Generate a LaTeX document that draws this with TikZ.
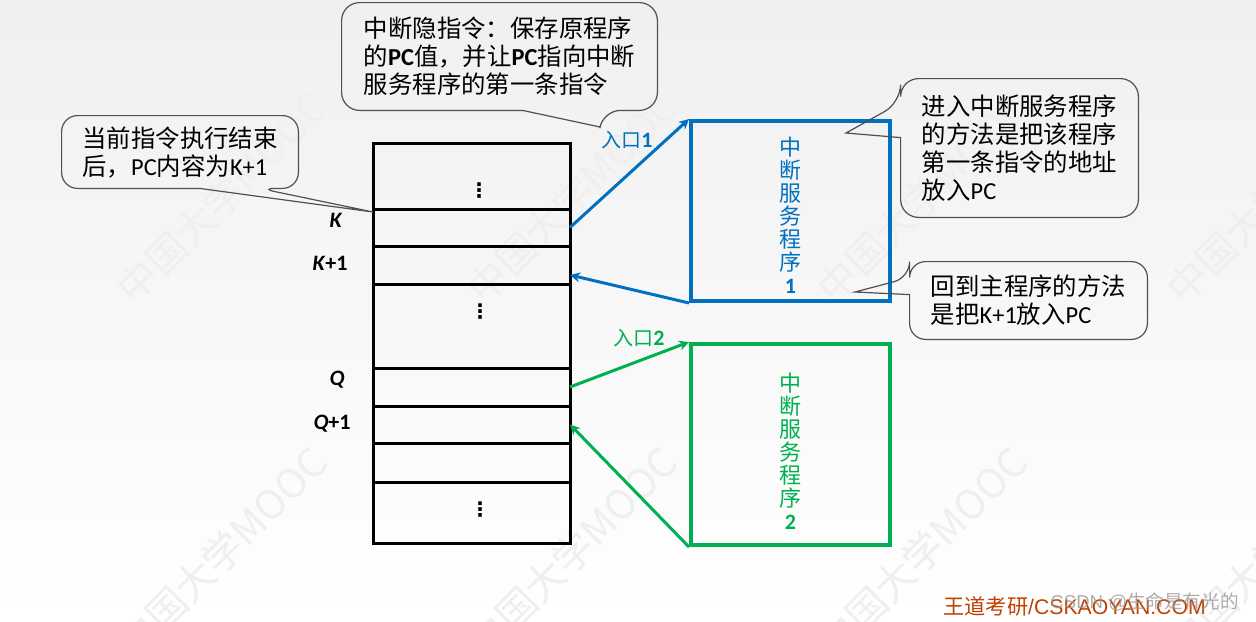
\documentclass[tikz,border=0pt]{standalone}
\usepackage{fontspec}
\setmainfont{Noto Sans CJK SC}
\newfontfamily\latinfont{Carlito}
\newfontfamily\arialfont{Liberation Sans}
\newfontfamily\symfont{DejaVu Sans}
\usetikzlibrary{positioning,arrows.meta,calc}
\definecolor{isrblue}{RGB}{0,112,192}
\definecolor{isrgreen}{RGB}{0,176,80}
\definecolor{wdred}{RGB}{192,64,0}
\definecolor{notegray}{RGB}{80,80,80}
\definecolor{markgray}{RGB}{239,239,239}
\tikzset{
  cell/.style     = {draw, line width=1.5pt, minimum width=98.5pt,
                     inner sep=0pt, outer sep=0pt},
  isrbox/.style   = {draw, line width=2pt, minimum width=99.5pt, inner sep=0pt},
  isrtext/.style  = {align=center, inner sep=0pt,
                     font=\fontsize{11}{11.5}\selectfont},
  addr/.style     = {inner sep=0pt, font=\latinfont\bfseries\fontsize{11}{12}\selectfont},
  entry/.style    = {inner sep=0pt, font=\fontsize{10}{12}\selectfont},
  notebox/.style  = {align=left, inner sep=0pt, font=\fontsize{12.2}{14}\selectfont},
  callout/.style  = {draw=notegray, line width=0.6pt},
  linkarr/.style  = {-{Stealth[length=5pt,width=5pt]}, line width=1.5pt},
  dotsmark/.style = {inner sep=0pt, font=\symfont\bfseries\fontsize{10}{10}\selectfont},
  watermark/.style= {rotate=45, text=markgray, font=\fontsize{20}{20}\selectfont}
}

\begin{document}
\begin{tikzpicture}[x=0.5pt, y=-0.5pt]
  \useasboundingbox (0,0) rectangle (1256,621);
  \shade[top color=black!6, bottom color=white] (0,0) rectangle (1256,621);
  % Watermarks
  \node[watermark] (wm1) at (222,198) {中国大学MOOC};
  \node[watermark] (wm2) at (572,198) {中国大学MOOC};
  \node[watermark] (wm3) at (922,198) {中国大学MOOC};
  \node[watermark] (wm4) at (1272,198) {中国大学MOOC};
  \node[watermark] (wm5) at (222,553) {中国大学MOOC};
  \node[watermark] (wm6) at (572,553) {中国大学MOOC};
  \node[watermark] (wm7) at (922,553) {中国大学MOOC};
  \node[watermark] (wm8) at (1272,553) {中国大学MOOC};
  % Main memory
  \node[cell, minimum height=33pt]   (c1) at (471.5,176) {};
  \node[cell, minimum height=18.5pt, below=0pt of c1] (c2) {};
  \node[cell, minimum height=19pt,   below=0pt of c2] (c3) {};
  \node[cell, minimum height=42pt,   below=0pt of c3] (c4) {};
  \node[cell, minimum height=19pt,   below=0pt of c4] (c5) {};
  \node[cell, minimum height=18.5pt, below=0pt of c5] (c6) {};
  \node[cell, minimum height=19.5pt, below=0pt of c6] (c7) {};
  \node[cell, minimum height=30.5pt, below=0pt of c7] (c8) {};
  \node[dotsmark] (d1) at (479,191) {⋮};
  \node[dotsmark] (d2) at (480,312) {⋮};
  \node[dotsmark] (d3) at (480,510) {⋮};
  % Addresses
  \node[addr] (lk)  at (336,220) {\textit{K}};
  \node[addr] (lk1) at (330,263) {\textit{K}+1};
  \node[addr] (lq)  at (337,380) {\textit{Q}};
  \node[addr] (lq1) at (332,424) {\textit{Q}+1};
  % Service routines
  \node[isrbox, draw=isrblue,  minimum height=90pt]    (isr1) at (790.5,211)   {};
  \node[isrbox, draw=isrgreen, minimum height=100.5pt] (isr2) at (790.5,444.5) {};
  \node[isrtext, text=isrblue]  (t1) at (790.5,215) {中\\断\\服\\务\\程\\序\\{\latinfont\bfseries 1}};
  \node[isrtext, text=isrgreen] (t2) at (790.5,451) {中\\断\\服\\务\\程\\序\\{\latinfont\bfseries 2}};
  % Entry and return
  \draw[linkarr, isrblue]  (c2.east) -- (isr1.north west);
  \draw[linkarr, isrblue]  (isr1.south west) -- ([yshift=-5pt]c3.east);
  \draw[linkarr, isrgreen] (c5.east) -- (isr2.north west);
  \draw[linkarr, isrgreen] (isr2.south west) -- (c6.east);
  \node[entry, text=isrblue]  (in1) at (627,140) {入口{\latinfont\bfseries\fontsize{11}{12}\selectfont 1}};
  \node[entry, text=isrgreen] (in2) at (639,338) {入口{\latinfont\bfseries\fontsize{11}{12}\selectfont 2}};
  % Callouts
  \coordinate (tipA) at (600,127);
  \coordinate (tipB) at ([yshift=-1.5pt]c2.north west);
  \coordinate (tipC) at (846,133);
  \coordinate (tipD) at (855,292);
  \node[notebox, minimum width=157.5pt, minimum height=53.5pt] (noteA) at (499.5,56.5)
    {中断隐指令：保存原程序\\的{\latinfont\bfseries PC}值，并让{\latinfont\bfseries PC}指向中断\\服务程序的第一条指令};
  \node[notebox, minimum width=118pt, minimum height=36pt] (noteB) at (180,152)
    {当前指令执行结束\\后，{\latinfont PC}内容为{\latinfont K+1}};
  \node[notebox, minimum width=118.5pt, minimum height=69pt] (noteC) at (1019.5,148)
    {进入中断服务程序\\的方法是把该程序\\第一条指令的地址\\放入{\latinfont PC}};
  \node[notebox, minimum width=118.5pt, minimum height=38.5pt] (noteD) at (1028.5,300.5)
    {回到主程序的方法\\是把{\latinfont K+1}放入{\latinfont PC}};
  \draw[callout] ($(noteA.south west)+(181,0)$) [rounded corners=9pt]
    -- (noteA.south west) -- (noteA.north west) -- (noteA.north east)
    -- (noteA.south east) -- ($(noteA.south west)+(261,0)$) [sharp corners]
    -- (tipA) -- cycle;
  \draw[callout] ($(noteB.south west)+(138,0)$) [rounded corners=8pt]
    -- (noteB.south west) -- (noteB.north west) -- (noteB.north east)
    -- (noteB.south east) -- ($(noteB.south west)+(198,0)$) [sharp corners]
    -- (tipB) -- cycle;
  \draw[callout] ($(noteC.north west)+(0,59)$) [rounded corners=9pt]
    -- (noteC.south west) -- (noteC.south east) -- (noteC.north east)
    -- (noteC.north west) -- ($(noteC.north west)+(0,24)$) [sharp corners]
    -- (tipC) -- cycle;
  \draw[callout] ($(noteD.north west)+(0,33)$) [rounded corners=8pt]
    -- (noteD.south west) -- (noteD.south east) -- (noteD.north east)
    -- (noteD.north west) -- ($(noteD.north west)+(0,16)$) [sharp corners]
    -- (tipD) -- cycle;
  % Credits
  \node[anchor=west, inner sep=0pt, text=wdred, font=\fontsize{10.6}{12}\selectfont]
    (credit) at (943,606) {王道考研{\arialfont /CSKAOYAN.COM}};
  \node[anchor=west, inner sep=0pt, text=black!40, opacity=0.8, font=\fontsize{9.3}{11}\selectfont]
    (csdn) at (1050,602) {{\arialfont CSDN @}生命是有光的};
\end{tikzpicture}
\end{document}
